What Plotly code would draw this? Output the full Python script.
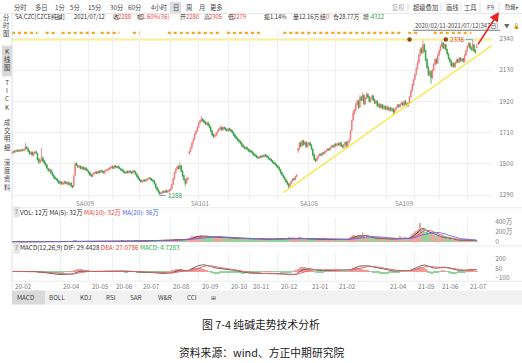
import plotly.graph_objects as go
import pandas as pd

W, H = 522, 363
FONT = "Noto Sans CJK SC"
FS = 6.3

# ---------------- data ----------------
MONTHS = ["20-02", "20-03", "20-04", "20-05", "20-06", "20-07", "20-08", "20-09", "20-10",
          "20-11", "20-12", "21-01", "21-02", "21-03", "21-04", "21-05", "21-06", "21-07"]
MONTH_DAYS = [14, 22, 21, 18, 20, 23, 21, 22, 16, 21, 23, 20, 15, 23, 21, 18, 21, 8]
HIDDEN_MONTHS = ["20-03", "21-03"]

close = [
    1578, 1584, 1580, 1590, 1586, 1592, 1588, 1595, 1590, 1598, 1612, 1605, 1585, 1570,
    1578, 1560, 1572, 1580, 1575, 1530, 1512, 1525, 1540, 1520, 1505, 1490, 1470, 1455, 1460, 1440, 1425, 1410, 1400, 1395, 1382, 1370,
    1378, 1365, 1372, 1380, 1368, 1375, 1362, 1370, 1350, 1345, 1420, 1500, 1492, 1480, 1485, 1470, 1478, 1465, 1472, 1460, 1455,
    1440, 1425, 1418, 1430, 1440, 1445, 1438, 1450, 1442, 1455, 1448, 1440, 1452, 1458, 1462, 1468, 1475, 1480,
    1472, 1485, 1478, 1482, 1475, 1470, 1460, 1455, 1445, 1440, 1448, 1442, 1450, 1445, 1440, 1452, 1448, 1430, 1415, 1400,
    1390, 1380, 1385, 1392, 1385, 1395, 1400, 1405, 1398, 1390, 1385, 1365, 1340, 1325, 1310, 1300, 1305, 1315, 1310, 1320, 1312, 1318, 1325,
    1330, 1360, 1400, 1440, 1465, 1480, 1470, 1490, 1450, 1420, 1395, 1370, 1400, 1405, 1585, 1610, 1640, 1665, 1700, 1720, 1745,
    1775, 1790, 1800, 1790, 1780, 1770, 1775, 1760, 1745, 1720, 1695, 1685, 1690, 1705, 1720, 1735, 1742, 1730, 1745, 1738, 1730, 1725,
    1735, 1728, 1720, 1710, 1695, 1680, 1670, 1660, 1650, 1640, 1625, 1615, 1605, 1610, 1598, 1590,
    1585, 1580, 1570, 1560, 1555, 1545, 1540, 1548, 1545, 1555, 1550, 1560, 1552, 1545, 1535, 1530, 1520, 1510, 1505, 1495, 1485,
    1475, 1460, 1440, 1425, 1410, 1395, 1380, 1365, 1350, 1370, 1385, 1400, 1395, 1415, 1425, 1600, 1640, 1620, 1655, 1630, 1645, 1615, 1635,
    1640, 1625, 1600, 1560, 1530, 1520, 1540, 1555, 1565, 1560, 1575, 1570, 1585, 1590, 1600, 1595, 1610, 1620, 1615, 1630,
    1625, 1635, 1630, 1640, 1620, 1615, 1630, 1645, 1625, 1650, 1660, 1720, 1790, 1840, 1860,
    1900, 1920, 1880, 1945, 1930, 1960, 1905, 1940, 1965, 1950, 1920, 1935, 1955, 1930, 1910, 1920, 1890, 1900, 1880, 1895, 1875, 1885, 1870,
    1880, 1865, 1875, 1860, 1870, 1850, 1865, 1880, 1895, 1885, 1900, 1910, 1895, 1920, 1905, 1890, 1910, 1950, 1990, 2030, 2065,
    2100, 2140, 2180, 2230, 2270, 2250, 2300, 2260, 2200, 2150, 2100, 2120, 2080, 2130, 2170, 2200, 2180, 2230,
    2260, 2290, 2310, 2280, 2300, 2270, 2240, 2210, 2190, 2160, 2175, 2155, 2180, 2200, 2185, 2210, 2195, 2205, 2190, 2230, 2260,
    2290, 2310, 2280, 2270, 2300, 2260, 2252, 2288,
]
open_ = [
    1570, 1576, 1586, 1582, 1591, 1585, 1593, 1587, 1596, 1591, 1597, 1614, 1603, 1586,
    1568, 1580, 1558, 1571, 1582, 1570, 1532, 1510, 1524, 1542, 1522, 1506, 1492, 1468, 1452, 1462, 1442, 1426, 1412, 1398, 1396, 1384,
    1368, 1380, 1364, 1370, 1382, 1366, 1376, 1360, 1372, 1352, 1348, 1425, 1505, 1490, 1478, 1486, 1468, 1480, 1462, 1474, 1462,
    1452, 1442, 1428, 1416, 1432, 1438, 1446, 1436, 1452, 1444, 1456, 1450, 1438, 1454, 1456, 1460, 1466, 1474,
    1482, 1470, 1488, 1476, 1484, 1476, 1468, 1462, 1456, 1446, 1438, 1450, 1440, 1452, 1446, 1438, 1454, 1446, 1432, 1416,
    1402, 1392, 1378, 1384, 1394, 1386, 1394, 1398, 1406, 1400, 1392, 1386, 1366, 1342, 1326, 1312, 1298, 1304, 1316, 1308, 1322, 1310, 1316,
    1324, 1332, 1362, 1402, 1442, 1466, 1484, 1468, 1488, 1452, 1422, 1396, 1372, 1398, 1570, 1588, 1612, 1642, 1668, 1702, 1722,
    1748, 1778, 1788, 1802, 1792, 1782, 1768, 1778, 1762, 1746, 1722, 1698, 1684, 1692, 1706, 1722, 1734, 1744, 1728, 1746, 1740, 1732,
    1722, 1738, 1730, 1722, 1712, 1698, 1682, 1672, 1662, 1652, 1642, 1628, 1616, 1602, 1612, 1600,
    1592, 1588, 1582, 1572, 1562, 1556, 1546, 1538, 1550, 1544, 1556, 1548, 1562, 1554, 1546, 1536, 1532, 1522, 1512, 1506, 1496,
    1486, 1476, 1462, 1442, 1426, 1412, 1396, 1382, 1366, 1352, 1372, 1386, 1402, 1396, 1416, 1590, 1602, 1642, 1622, 1656, 1632, 1646, 1616,
    1632, 1642, 1626, 1598, 1562, 1532, 1522, 1542, 1556, 1566, 1558, 1576, 1572, 1586, 1592, 1602, 1596, 1612, 1622, 1614,
    1632, 1626, 1636, 1628, 1642, 1622, 1614, 1630, 1646, 1622, 1652, 1664, 1725, 1795, 1842,
    1862, 1902, 1922, 1882, 1948, 1928, 1962, 1904, 1942, 1968, 1952, 1918, 1936, 1958, 1932, 1908, 1922, 1888, 1902, 1878, 1898, 1872, 1888,
    1868, 1882, 1862, 1878, 1858, 1872, 1848, 1866, 1882, 1898, 1884, 1902, 1912, 1894, 1922, 1904, 1888, 1912, 1952, 1992, 2032,
    2068, 2102, 2142, 2182, 2232, 2272, 2248, 2302, 2258, 2202, 2148, 2098, 2122, 2078, 2132, 2168, 2202, 2178,
    2232, 2262, 2292, 2312, 2278, 2302, 2268, 2238, 2208, 2192, 2158, 2178, 2152, 2182, 2202, 2182, 2212, 2192, 2208, 2188, 2232,
    2262, 2292, 2312, 2278, 2268, 2302, 2262, 2280,
]
high = [
    1588, 1592, 1593, 1596, 1598, 1600, 1598, 1602, 1601, 1606, 1641, 1620, 1608, 1592,
    1586, 1585, 1578, 1588, 1590, 1575, 1540, 1532, 1608, 1548, 1528, 1512, 1498, 1475, 1468, 1466, 1448, 1432, 1418, 1408, 1402, 1390,
    1386, 1384, 1378, 1388, 1386, 1380, 1380, 1376, 1376, 1358, 1428, 1508, 1512, 1496, 1492, 1490, 1484, 1484, 1478, 1478, 1468,
    1458, 1448, 1434, 1436, 1446, 1452, 1450, 1456, 1456, 1462, 1460, 1454, 1458, 1464, 1468, 1474, 1482, 1488,
    1490, 1492, 1494, 1488, 1490, 1482, 1474, 1468, 1462, 1452, 1454, 1456, 1456, 1458, 1452, 1458, 1460, 1452, 1438, 1422,
    1408, 1396, 1390, 1398, 1398, 1400, 1406, 1412, 1410, 1404, 1396, 1390, 1370, 1348, 1332, 1316, 1310, 1320, 1320, 1326, 1326, 1322, 1330,
    1336, 1368, 1408, 1448, 1472, 1488, 1490, 1508, 1494, 1458, 1428, 1400, 1406, 1412, 1592, 1618, 1648, 1674, 1708, 1728, 1752,
    1782, 1798, 1822, 1808, 1798, 1788, 1782, 1784, 1768, 1752, 1728, 1704, 1698, 1712, 1726, 1742, 1760, 1750, 1752, 1752, 1746, 1738,
    1742, 1744, 1736, 1728, 1716, 1702, 1688, 1678, 1666, 1658, 1646, 1632, 1620, 1616, 1616, 1604,
    1598, 1594, 1588, 1578, 1568, 1562, 1552, 1554, 1556, 1560, 1562, 1566, 1566, 1558, 1550, 1542, 1536, 1526, 1516, 1510, 1500,
    1490, 1480, 1466, 1446, 1430, 1416, 1400, 1386, 1370, 1376, 1390, 1406, 1408, 1420, 1430, 1608, 1648, 1650, 1662, 1662, 1652, 1652, 1642,
    1650, 1648, 1632, 1604, 1568, 1538, 1546, 1562, 1572, 1572, 1582, 1580, 1592, 1598, 1606, 1606, 1616, 1628, 1628, 1636,
    1640, 1642, 1644, 1648, 1648, 1630, 1636, 1652, 1652, 1656, 1668, 1728, 1798, 1862, 1872,
    1912, 1935, 1930, 1962, 1958, 1980, 1968, 1950, 1985, 1975, 1958, 1945, 1968, 1962, 1940, 1930, 1928, 1910, 1908, 1902, 1902, 1892, 1895,
    1888, 1890, 1882, 1884, 1876, 1878, 1870, 1886, 1902, 1902, 1908, 1918, 1916, 1928, 1928, 1910, 1916, 1958, 1998, 2038, 2072,
    2108, 2150, 2190, 2240, 2282, 2285, 2329, 2310, 2268, 2210, 2160, 2130, 2128, 2138, 2178, 2210, 2212, 2240,
    2268, 2298, 2329, 2318, 2310, 2308, 2275, 2245, 2215, 2198, 2182, 2182, 2188, 2208, 2208, 2218, 2218, 2212, 2212, 2238, 2268,
    2298, 2318, 2316, 2290, 2336, 2305, 2270, 2305,
]
low = [
    1565, 1570, 1575, 1578, 1580, 1580, 1582, 1583, 1585, 1585, 1592, 1598, 1580, 1562,
    1562, 1552, 1552, 1565, 1568, 1522, 1500, 1505, 1518, 1512, 1498, 1484, 1464, 1448, 1448, 1435, 1420, 1404, 1394, 1388, 1376, 1364,
    1362, 1360, 1358, 1364, 1362, 1360, 1355, 1356, 1344, 1335, 1344, 1420, 1486, 1474, 1472, 1465, 1462, 1460, 1458, 1455, 1448,
    1434, 1420, 1410, 1412, 1428, 1434, 1432, 1432, 1436, 1440, 1442, 1434, 1434, 1448, 1452, 1456, 1462, 1470,
    1466, 1465, 1472, 1470, 1470, 1464, 1455, 1450, 1440, 1434, 1434, 1436, 1436, 1440, 1434, 1434, 1442, 1424, 1408, 1394,
    1384, 1375, 1374, 1380, 1380, 1382, 1390, 1394, 1392, 1385, 1378, 1360, 1335, 1318, 1304, 1288, 1295, 1300, 1304, 1304, 1306, 1306, 1312,
    1318, 1326, 1356, 1396, 1436, 1460, 1464, 1462, 1444, 1414, 1388, 1352, 1366, 1392, 1562, 1580, 1604, 1636, 1660, 1696, 1716,
    1742, 1770, 1782, 1784, 1774, 1762, 1762, 1754, 1738, 1714, 1688, 1676, 1678, 1686, 1700, 1716, 1728, 1724, 1722, 1732, 1724, 1718,
    1716, 1722, 1714, 1704, 1688, 1674, 1664, 1652, 1644, 1634, 1618, 1608, 1598, 1598, 1592, 1582,
    1578, 1574, 1564, 1554, 1548, 1540, 1534, 1534, 1540, 1540, 1544, 1544, 1548, 1540, 1530, 1524, 1514, 1504, 1498, 1490, 1478,
    1470, 1454, 1434, 1420, 1404, 1390, 1374, 1358, 1335, 1346, 1366, 1380, 1390, 1390, 1410, 1575, 1596, 1612, 1616, 1624, 1626, 1608, 1610,
    1626, 1618, 1594, 1552, 1524, 1512, 1516, 1536, 1550, 1552, 1552, 1564, 1566, 1580, 1586, 1588, 1590, 1606, 1608, 1608,
    1618, 1618, 1622, 1622, 1614, 1606, 1604, 1608, 1612, 1604, 1640, 1658, 1718, 1785, 1830,
    1855, 1895, 1870, 1875, 1922, 1922, 1895, 1898, 1935, 1940, 1912, 1912, 1928, 1922, 1902, 1900, 1882, 1880, 1870, 1872, 1865, 1865, 1862,
    1860, 1858, 1855, 1852, 1852, 1829, 1842, 1860, 1876, 1878, 1878, 1896, 1888, 1888, 1898, 1882, 1885, 1905, 1945, 1985, 2025,
    2060, 2095, 2135, 2175, 2225, 2240, 2240, 2250, 2192, 2140, 2090, 2090, 2040, 2070, 2125, 2160, 2170, 2172,
    2225, 2255, 2285, 2272, 2272, 2262, 2232, 2202, 2182, 2150, 2150, 2145, 2148, 2175, 2178, 2178, 2188, 2185, 2182, 2182, 2225,
    2255, 2285, 2272, 2262, 2262, 2250, 2240, 2279,
]
volume = [  # 万手
    3, 4, 3, 5, 4, 3, 4, 5, 4, 5, 9, 7, 6, 5,
    6, 7, 5, 6, 7, 9, 10, 8, 9, 8, 7, 8, 9, 8, 7, 8, 9, 8, 7, 9, 8, 10,
    9, 8, 10, 9, 8, 9, 10, 11, 12, 14, 30, 26, 18, 14, 12, 13, 11, 12, 10, 11, 12,
    13, 12, 14, 12, 11, 12, 13, 12, 11, 12, 13, 12, 11, 14, 13, 14, 15, 16,
    15, 16, 14, 15, 14, 15, 16, 17, 18, 16, 15, 14, 15, 14, 16, 15, 14, 18, 20, 22,
    24, 22, 20, 21, 22, 20, 19, 18, 20, 22, 24, 28, 32, 30, 34, 36, 30, 28, 26, 27, 29, 28, 30,
    32, 38, 45, 52, 55, 50, 48, 56, 52, 48, 46, 50, 44, 42, 80, 95, 110, 105, 120, 115, 108,
    125, 118, 140, 120, 110, 105, 98, 96, 102, 110, 115, 100, 92, 88, 90, 95, 100, 92, 88, 85, 80, 78,
    82, 75, 70, 72, 76, 80, 74, 70, 68, 72, 76, 70, 66, 64, 62, 60,
    58, 55, 52, 50, 54, 48, 46, 50, 52, 55, 50, 48, 52, 55, 58, 60, 62, 58, 64, 66, 70,
    72, 75, 78, 74, 70, 76, 80, 84, 88, 78, 72, 68, 66, 62, 60, 85, 92, 80, 72, 68, 64, 60, 58,
    62, 58, 65, 70, 68, 60, 56, 54, 52, 50, 48, 52, 50, 48, 46, 50, 52, 48, 46, 50,
    48, 46, 50, 52, 55, 50, 48, 52, 56, 58, 62, 90, 120, 140, 130,
    115, 110, 125, 130, 118, 190, 120, 105, 110, 100, 92, 85, 80, 75, 72, 70, 68, 72, 66, 64, 62, 60, 58,
    56, 55, 52, 58, 60, 72, 66, 62, 70, 64, 110, 80, 70, 65, 72, 68, 75, 95, 120, 150, 170,
    190, 210, 240, 260, 380, 230, 250, 220, 200, 190, 175, 160, 185, 150, 135, 125, 115, 110,
    105, 98, 95, 90, 80, 72, 66, 60, 55, 48, 46, 44, 42, 40, 38, 36, 36, 35, 35, 34, 33,
    32, 31, 30, 36, 38, 40, 34, 12,
]

CONTRACTS = ["SA009", "SA101", "SA105", "SA109"]
CONTRACT_START = [46, 132, 213, 284]
LOW_MARK = (110, 1288)
HIGH_MARK = (343, 2336)
RESIST_LEVEL = 2336
RESIST_ANCHORS = [296, 323]
TREND_START = (202, 1307)
TREND_END = (357.4, 2297)
EVENT_SPANS = [(0, 19), (25, 34), (37, 63), (66, 80), (90, 95), (116, 155), (160, 185),
               (202, 291), (295, 302), (314, 342)]
EVENT_ROW = 2381
PRICE_TICKS = [1290, 1500, 1710, 1920, 2130, 2340]
VOL_TICKS = [0, 200, 400]
VOL_TICK_TEXT = ["0", "200万", "400万"]
MACD_TICKS = [-100, 50, 200]

# ---------------- geometry helpers ----------------
def fx(px):
    return px / W


def fy(py):
    return 1 - py / H


n = len(close)
x = list(range(n))
XR = [-0.75, 357.4]
month_start = []
acc = 0
for d in MONTH_DAYS:
    month_start.append(acc)
    acc += d
shown = [(m, s) for m, s in zip(MONTHS, month_start) if m not in HIDDEN_MONTHS]
grid_x = [s for _, s in shown]

UP_LINE, UP_FILL = "#ef7373", "#f6a8a8"
DN_LINE, DN_FILL = "#34a043", "#45ad52"

s_close = pd.Series(close, dtype=float)
ema12 = s_close.ewm(span=12, adjust=False).mean()
ema26 = s_close.ewm(span=26, adjust=False).mean()
dif = ema12 - ema26
dea = dif.ewm(span=9, adjust=False).mean()
hist = 2 * (dif - dea)
s_vol = pd.Series(volume, dtype=float)
ma5 = s_vol.rolling(5, min_periods=1).mean()
ma10 = s_vol.rolling(10, min_periods=1).mean()
ma20 = s_vol.rolling(20, min_periods=1).mean()

fig = go.Figure()
fig.add_trace(go.Candlestick(
    x=x, open=open_, high=high, low=low, close=close,
    increasing=dict(line=dict(color=UP_LINE, width=0.8), fillcolor=UP_FILL),
    decreasing=dict(line=dict(color=DN_LINE, width=0.8), fillcolor=DN_FILL),
    whiskerwidth=0, showlegend=False, hoverinfo="skip", xaxis="x", yaxis="y"))

# event markers row
ex, ey = [], []
for s, e in EVENT_SPANS:
    ex += [s, e, None]
    ey += [EVENT_ROW, EVENT_ROW, None]
fig.add_trace(go.Scatter(x=ex, y=ey, mode="lines",
                         line=dict(color="#f5a623", width=2.2, dash="dot"),
                         showlegend=False, hoverinfo="skip", xaxis="x", yaxis="y"))
fig.add_trace(go.Scatter(x=RESIST_ANCHORS, y=[RESIST_LEVEL] * len(RESIST_ANCHORS), mode="markers",
                         marker=dict(color="#8a4b16", size=4.5),
                         showlegend=False, hoverinfo="skip", xaxis="x", yaxis="y"))

vcol = ["#f4a3a3" if c >= o else "#8fd49a" for o, c in zip(open_, close)]
fig.add_trace(go.Bar(x=x, y=volume, marker=dict(color=vcol, line=dict(width=0)), width=0.7,
                     showlegend=False, hoverinfo="skip", xaxis="x2", yaxis="y2"))
for ser, col in ((ma5, "#404040"), (ma10, "#e85a5a"), (ma20, "#5a6ee8")):
    fig.add_trace(go.Scatter(x=x, y=ser, mode="lines", line=dict(color=col, width=0.9),
                             showlegend=False, hoverinfo="skip", xaxis="x2", yaxis="y2"))

hcol = ["#f19a9a" if v >= 0 else "#92d39c" for v in hist]
fig.add_trace(go.Bar(x=x, y=hist, marker=dict(color=hcol, line=dict(width=0)), width=0.6,
                     showlegend=False, hoverinfo="skip", xaxis="x3", yaxis="y3"))
fig.add_trace(go.Scatter(x=x, y=dif, mode="lines", line=dict(color="#555555", width=0.9),
                         showlegend=False, hoverinfo="skip", xaxis="x3", yaxis="y3"))
fig.add_trace(go.Scatter(x=x, y=dea, mode="lines", line=dict(color="#e86060", width=0.9),
                         showlegend=False, hoverinfo="skip", xaxis="x3", yaxis="y3"))

XD = [fx(11), fx(492)]
GRID = "#f0f0f0"
axfont = dict(family=FONT, size=6.4, color="#7a7a7a")
xcommon = dict(domain=XD, range=XR, showticklabels=False, tickvals=grid_x, showgrid=True,
               gridcolor=GRID, gridwidth=1, zeroline=False, showline=False, fixedrange=True)


def price_at(py):
    # 2340 sits at py 38.3, 6.667 price units per pixel
    return 2340 - (py - 38.3) * 6.6667


fig.update_layout(
    width=W, height=H, margin=dict(l=0, r=0, t=0, b=0),
    paper_bgcolor="white", plot_bgcolor="white", showlegend=False, bargap=0,
    font=dict(family=FONT, size=FS, color="#333"),
    xaxis=dict(**xcommon, anchor="y", rangeslider=dict(visible=False)),
    xaxis2=dict(**xcommon, anchor="y2"),
    xaxis3=dict(**xcommon, anchor="y3"),
    yaxis=dict(domain=[fy(200), fy(28)], range=[price_at(200), price_at(28)], side="right",
               tickvals=PRICE_TICKS, tickfont=axfont, ticks="outside", ticklen=5,
               tickcolor="rgba(0,0,0,0)", showgrid=True, gridcolor=GRID, zeroline=False,
               anchor="x", fixedrange=True),
    yaxis2=dict(domain=[fy(245), fy(219)], range=[-40, 480], side="right",
                tickvals=VOL_TICKS, ticktext=VOL_TICK_TEXT, tickfont=axfont, ticks="outside",
                ticklen=1, tickcolor="rgba(0,0,0,0)", showgrid=False, zeroline=False,
                anchor="x2", fixedrange=True),
    yaxis3=dict(domain=[fy(282), fy(253)], range=[-147.4, 310.5], side="right",
                tickvals=MACD_TICKS, tickfont=axfont, ticks="outside", ticklen=1,
                tickcolor="rgba(0,0,0,0)", showgrid=False, zeroline=False,
                anchor="x3", fixedrange=True),
)

shapes = []
ann = []


def rect(x0, y0, x1, y1, fill):
    shapes.append(dict(type="rect", xref="paper", yref="paper", x0=fx(x0), x1=fx(x1),
                       y0=fy(y1), y1=fy(y0), fillcolor=fill, line=dict(width=0), layer="below"))


def hline(x0, x1, py, color="#e3e3e3", width=1):
    shapes.append(dict(type="line", xref="paper", yref="paper", x0=fx(x0), x1=fx(x1),
                       y0=fy(py), y1=fy(py), line=dict(color=color, width=width)))


def vline(px, y0, y1, color="#e3e3e3", width=1):
    shapes.append(dict(type="line", xref="paper", yref="paper", x0=fx(px), x1=fx(px),
                       y0=fy(y0), y1=fy(y1), line=dict(color=color, width=width)))


def text(px, py, t, size=FS, color="#333", anchor="left", **kw):
    ann.append(dict(xref="paper", yref="paper", x=fx(px), y=fy(py), text=t, showarrow=False,
                    xanchor=anchor, yanchor="middle", font=dict(family=FONT, size=size, color=color), **kw))


# resistance + trend line
shapes.append(dict(type="line", xref="x domain", yref="y", x0=0, x1=1, y0=RESIST_LEVEL, y1=RESIST_LEVEL,
                   line=dict(color="#fff27a", width=2), layer="below"))
shapes.append(dict(type="line", xref="x", yref="y", x0=TREND_START[0], y0=TREND_START[1],
                   x1=TREND_END[0], y1=TREND_END[1], line=dict(color="#f7ea4f", width=1.5)))

# separators and bars
hline(0, 522, 12.5, "#e6e6e6")
hline(12, 522, 208.5, "#ececec")
hline(12, 522, 247, "#ececec")
hline(12, 522, 282.5, "#ececec")
vline(12, 13, 292, "#e6e6e6")
rect(12, 292, 522, 306, "#f1f1f1")
rect(12, 292, 45, 306, "#d9d9d9")
rect(170, 1, 181, 12, "#dcdcdc")
rect(2, 45, 12, 76, "#d9d9d9")

# toolbar row 1
for t, cx in [("分时", 20), ("多日", 41), ("1分", 59.5), ("5分", 74.5), ("15分", 94.5), ("30分", 116.5),
              ("60分", 135), ("4小时", 159), ("日", 175.5), ("周", 189), ("月", 202), ("更多", 216)]:
    text(cx, 6.5, t, FS, "#444", "center")
text(398.5, 6.5, "复权", FS, "#aaaaaa", "center")
for t, cx in [("超级叠加", 425.5), ("画线", 452), ("工具", 470), ("F9", 490)]:
    text(cx, 6.5, t, FS, "#444", "center")
text(503, 6.5, "隐藏▸", 5.3, "#444", "left")
for px in (408, 441, 461, 480, 499):
    vline(px, 2, 11, "#dddddd")

# info row 2
R, G = "#e8403a", "#1e9b38"
FS2 = 5.9
row2 = [(13, "SA.CZC[CZCE纯碱]", "#333"), (72, "2021/07/12", "#333"), (111, "收", "#333"),
        (116, "2288", R), (135, "幅", "#333"), (140, "1.60%(36)", R), (178, "开", "#333"),
        (184, "2280", R), (202, "高", "#333"), (207, "2305", R), (226, "低", "#333"), (231, "2279", R),
        (262, "振1.14%", "#333"), (291, "量12.16万", "#333"), (318, "结", "#333"), (324, "0", R),
        (331, "仓28.77万", "#333"), (361, "增", "#333"), (367, "-4312", G)]
for px, t, c in row2:
    text(px, 15.5, t, FS2, c)

# date range label
text(413, 25, "2020/02/11-2021/07/12(347日)", FS2, "#444")
hline(413, 500, 29.5, "#555", 0.8)
text(502, 25, "▼", 5.5, "#666")
text(511, 25, "🔓", 5.5, "#e8a040")

# sidebar
text(6, 25, "分<br>时<br>图", FS, "#444", "center")
text(7, 59, "K<br>线<br>图", FS, "#333", "center")
text(7, 94.5, "T<br>I<br>C<br>K", FS, "#444", "center")
text(7, 135, "成<br>交<br>明<br>细", FS, "#444", "center")
text(7, 175, "深<br>度<br>资<br>料", FS, "#444", "center")

# contract labels
for name, s in zip(CONTRACTS, CONTRACT_START):
    ann.append(dict(xref="x", yref="paper", x=s, y=fy(204), text=name, showarrow=False,
                    xanchor="left", yanchor="middle", font=dict(family=FONT, size=FS, color="#8a8a8a")))

# month labels
for m, s in shown:
    ann.append(dict(xref="x3", yref="paper", x=s, y=fy(287.5), text=m, showarrow=False, xshift=1,
                    xanchor="left", yanchor="middle", font=dict(family=FONT, size=FS, color="#7a7a7a")))

# high / low marks
ann.append(dict(xref="x", yref="y", x=LOW_MARK[0], y=LOW_MARK[1], text=str(LOW_MARK[1]),
                showarrow=True, arrowhead=0, arrowwidth=1, arrowcolor="#6fa6d6", ax=6, ay=0,
                xanchor="left", font=dict(family=FONT, size=FS, color="#2e9e58")))
ann.append(dict(xref="x", yref="y", x=HIGH_MARK[0], y=HIGH_MARK[1], text=str(HIGH_MARK[1]),
                showarrow=True, arrowhead=0, arrowwidth=1, arrowcolor="#6fa6d6", ax=-7, ay=0,
                xanchor="right", font=dict(family=FONT, size=FS, color="#e8403a")))

# indicator labels
text(12.5, 213, "?", 5.5, "#666", bgcolor="#e4e4e4")
text(18, 213, "VOL: 12万 MA(5): 32万 <span style='color:#e8403a'>MA(10): 32万</span> "
              "<span style='color:#4a5ee8'>MA(20): 36万</span>", FS, "#333")
text(12.5, 249, "?", 5.5, "#666", bgcolor="#e4e4e4")
text(18, 249, "MACD(12,26,9) DIF: 29.4428 <span style='color:#e8403a'>DEA: 27.0786</span> "
              "<span style='color:#2bb24c'>MACD: 4.7283</span>", FS, "#333")

# bottom tabs
for t, cx in [("MACD", 25), ("BOLL", 57), ("KDJ", 86), ("RSI", 110.5), ("SAR", 136),
              ("W&R", 164.5), ("CCI", 192), ("⊞", 213.5)]:
    text(cx, 299, t, FS, "#444", "center")

# red arrow
ann.append(dict(xref="paper", yref="paper", x=fx(499), y=fy(11), ax=-22, ay=34, text="",
                showarrow=True, arrowhead=2, arrowsize=1.2, arrowwidth=1.6, arrowcolor="#e8231e"))

# captions
text(261, 326, "图 7-4 纯碱走势技术分析", 10.8, "#222", "center")
text(261, 354, "资料来源：wind、方正中期研究院", 10.8, "#222", "center")

fig.update_layout(shapes=shapes, annotations=ann)
fig.write_html("out.html", config={"displayModeBar": False},
               post_script="document.body.style.margin='0px';document.body.style.overflow='hidden';")
